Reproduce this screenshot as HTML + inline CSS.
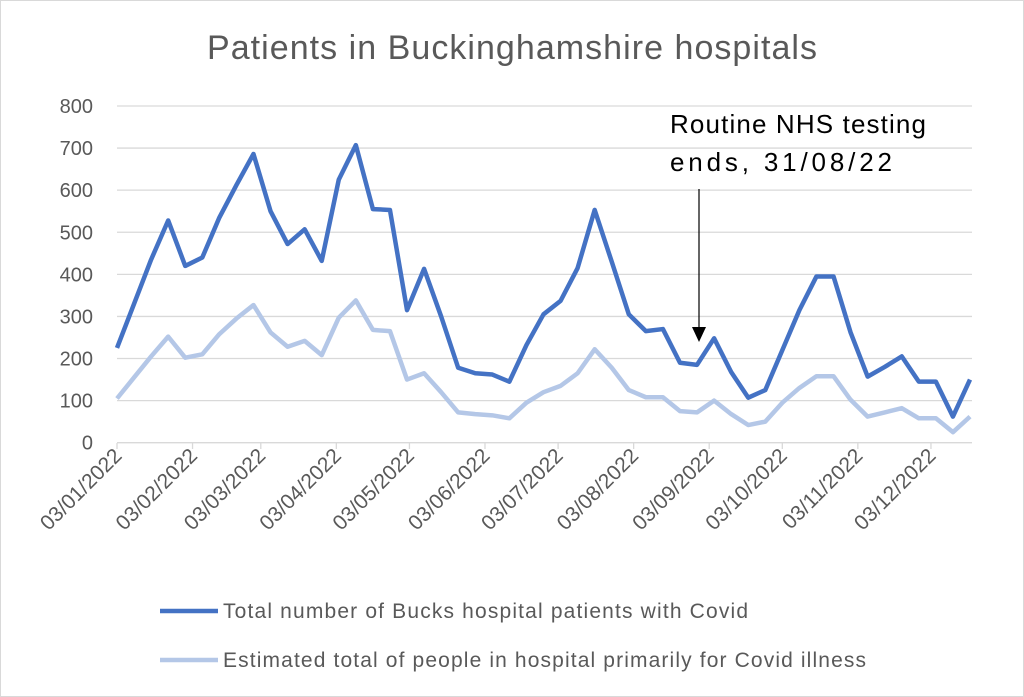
<!DOCTYPE html>
<html><head><meta charset="utf-8"><style>
body{margin:0;background:#fff}
svg{display:block;font-family:"Liberation Sans",sans-serif}
</style></head><body>
<svg id="c" width="1024" height="697" xmlns="http://www.w3.org/2000/svg">
<rect x="0.5" y="0.5" width="1023" height="696" fill="#fff" stroke="#d9d9d9"/>
<text x="512" y="59" font-size="34" fill="#595959" text-anchor="middle" textLength="610">Patients in Buckinghamshire hospitals</text>
<g id="grid"></g>
<polyline id="l2" fill="none" stroke="#B4C7E7" stroke-width="4.5" stroke-linejoin="round"/>
<polyline id="l1" fill="none" stroke="#4472C4" stroke-width="4.5" stroke-linejoin="round"/>
<text x="670" y="133" font-size="26" fill="#000" textLength="256">Routine NHS testing</text>
<text x="670" y="171" font-size="26" fill="#000" textLength="222">ends, 31/08/22</text>
<line x1="699" y1="189" x2="699" y2="330" stroke="#000" stroke-width="1.2"/>
<polygon points="692,327 706,327 699,342" fill="#000"/>
<line x1="160" y1="611" x2="218" y2="611" stroke="#4472C4" stroke-width="4.5"/>
<text x="223" y="618" font-size="21" fill="#595959" textLength="525">Total number of Bucks hospital patients with Covid</text>
<line x1="160" y1="660" x2="218" y2="660" stroke="#B4C7E7" stroke-width="4.5"/>
<text x="223" y="667" font-size="21" fill="#595959" textLength="643">Estimated total of people in hospital primarily for Covid illness</text>
</svg>
<script>
var d1=[225,330,435,528,420,440,535,612,686,550,472,507,432,625,707,555,553,315,413,300,178,165,162,145,232,305,337,415,553,430,305,265,270,190,185,248,168,107,125,220,315,395,395,262,157,180,205,145,145,62,150];
var d2=[105,155,205,252,202,210,258,295,327,262,228,242,208,297,338,268,265,150,165,120,72,68,65,58,95,120,135,165,222,178,125,108,108,75,72,100,68,42,50,95,130,158,158,102,62,72,82,58,58,25,62];
function Y(v){return 442.7-v*0.4209;}
function X(i){return 117+i*17.06;}
document.getElementById('l1').setAttribute('points',d1.map((v,i)=>X(i)+','+Y(v)).join(' '));
document.getElementById('l2').setAttribute('points',d2.map((v,i)=>X(i)+','+Y(v)).join(' '));
var g=document.getElementById('grid'),h='';
for(var k=0;k<=8;k++){var y=Y(k*100);
h+='<line x1="117" x2="972" y1="'+y+'" y2="'+y+'" stroke="#d9d9d9" stroke-width="1.3"/>';
h+='<text x="93" y="'+(y+7)+'" font-size="20" fill="#595959" text-anchor="end">'+(k*100)+'</text>';}
var days=[0,31,59,90,120,151,181,212,243,273,304,334];
days.forEach(function(d,i){var x=117+d*2.437;
h+='<line x1="'+x+'" x2="'+x+'" y1="443" y2="449" stroke="#d9d9d9" stroke-width="1.3"/>';
var m=('0'+(i+1)).slice(-2);
h+='<text transform="translate('+(x+6)+',457) rotate(-45)" font-size="21" fill="#595959" text-anchor="end">03/'+m+'/2022</text>';});
g.innerHTML=h;
</script>
</body></html>
